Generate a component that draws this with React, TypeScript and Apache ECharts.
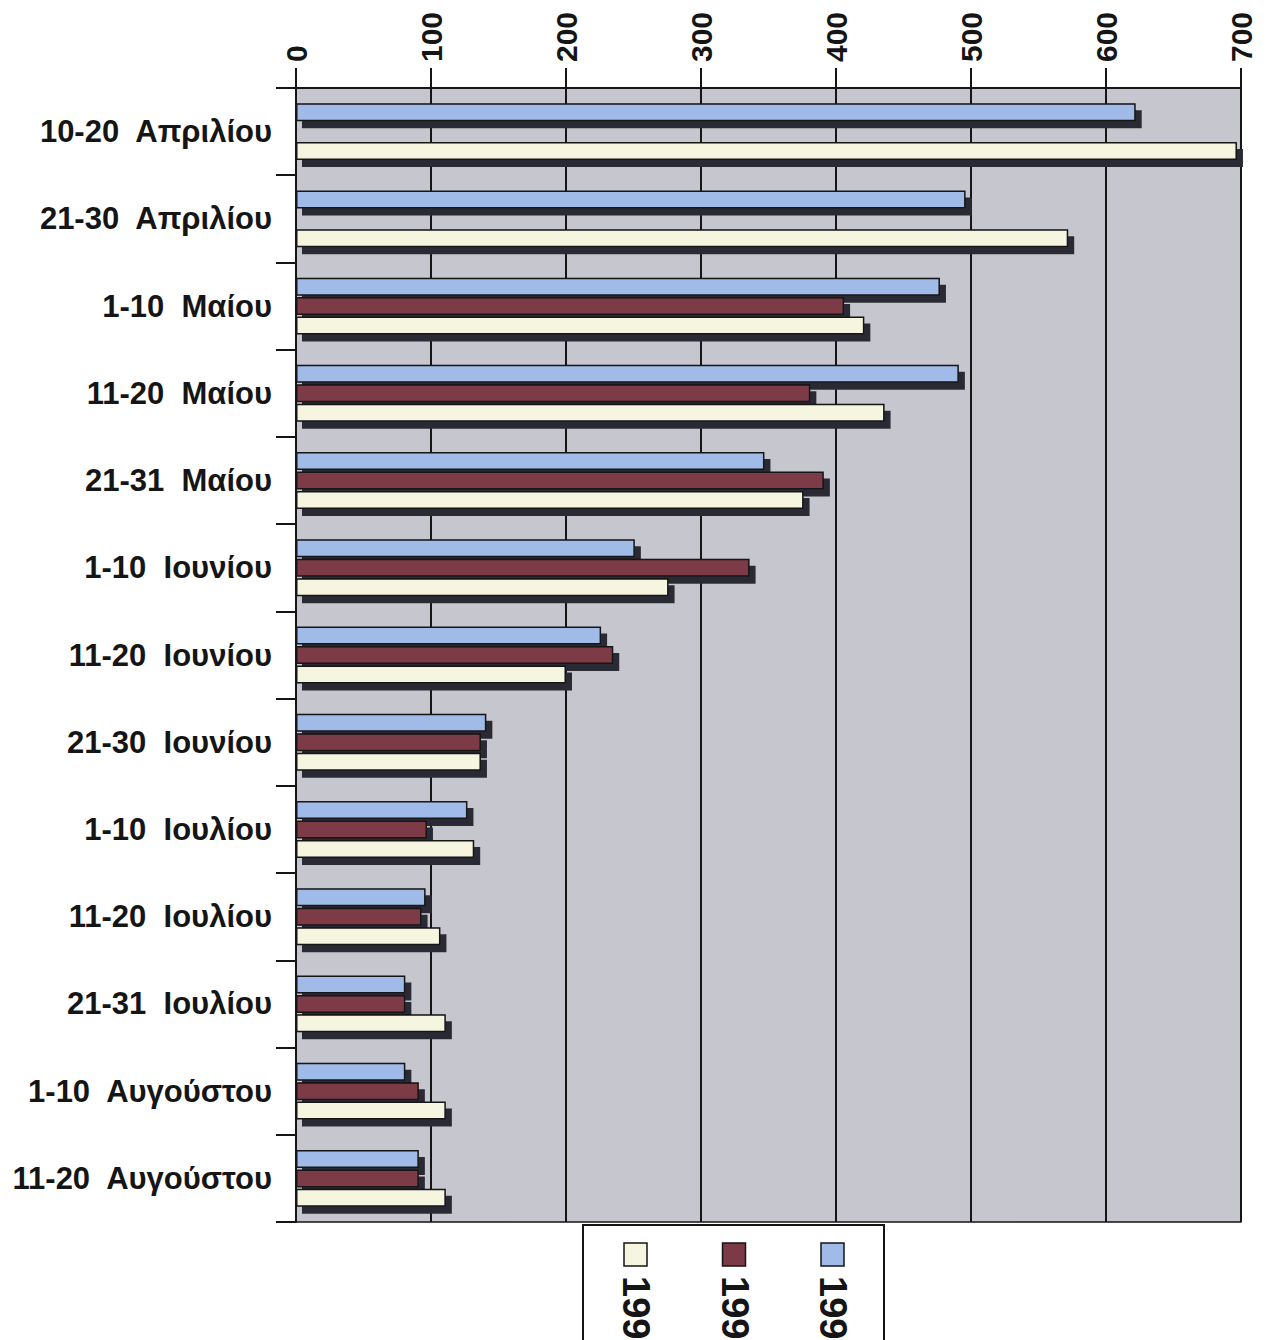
import React, { useEffect, useRef } from "react";
import * as echarts from "echarts";

// Ten-day periods, April to August
const periods = [
  "10-20  Απριλίου",
  "21-30  Απριλίου",
  "1-10  Μαίου",
  "11-20  Μαίου",
  "21-31  Μαίου",
  "1-10  Ιουνίου",
  "11-20  Ιουνίου",
  "21-30  Ιουνίου",
  "1-10  Ιουλίου",
  "11-20  Ιουλίου",
  "21-31  Ιουλίου",
  "1-10  Αυγούστου",
  "11-20  Αυγούστου",
];

const seriesNames = ["1996", "1997", "1998"];

const valuesBlue = [622, 496, 477, 491, 347, 251, 226, 141, 127, 96, 81, 81, 91];
const valuesMaroon = [null, null, 406, 381, 391, 336, 235, 137, 97, 93, 81, 91, 91];
const valuesCream = [697, 572, 421, 436, 376, 276, 200, 137, 132, 107, 111, 111, 111];

const valueTicks = { min: 0, max: 700, interval: 100 };

const COLORS = ["#a0bbe7", "#7c3a47", "#f6f6e0"];
const INK = "#151515";
const FONT = "'Liberation Sans', Arial, sans-serif";

export default function App() {
  const ref = useRef<HTMLDivElement>(null);

  useEffect(() => {
    if (!ref.current) return;
    const chart = echarts.init(ref.current, null, { renderer: "svg" });

    const data = [valuesBlue, valuesMaroon, valuesCream];

    const series = data.map((vals, i) => ({
      name: seriesNames[i],
      type: "bar",
      data: vals,
      barWidth: 18,
      barGap: "8%",
      itemStyle: {
        color: COLORS[i],
        borderColor: INK,
        borderWidth: 1.5,
        shadowColor: "#2c2c34",
        shadowOffsetX: 6,
        shadowOffsetY: 7,
        shadowBlur: 0,
      },
    }));

    // Legend box drawn as graphics so its labels can run vertically;
    // the last series sits at the left, the first at the right.
    const legendX = 583;
    const legendY = 1225;
    const legendItems = seriesNames
      .map((_, k) => {
        const idx = seriesNames.length - 1 - k;
        const cx = 636 + k * 98.5;
        return [
          {
            type: "rect",
            shape: { x: cx - 12, y: 1243, width: 23, height: 23 },
            style: { fill: COLORS[idx], stroke: INK, lineWidth: 1.5 },
          },
          {
            type: "text",
            x: cx,
            y: 1276,
            rotation: -Math.PI / 2,
            style: {
              text: seriesNames[idx],
              font: `bold 38px ${FONT}`,
              fill: INK,
              align: "left",
              verticalAlign: "middle",
            },
          },
        ];
      })
      .flat();

    chart.setOption({
      animation: false,
      backgroundColor: "#ffffff",
      grid: {
        left: 296,
        right: 25,
        top: 88,
        bottom: 118,
        show: true,
        backgroundColor: "#c6c6ce",
        borderWidth: 0,
      },
      xAxis: [
        {
          type: "value",
          position: "top",
          ...valueTicks,
          axisLine: { show: true, lineStyle: { color: INK, width: 2 } },
          axisTick: { show: true, length: 20, inside: false, lineStyle: { color: INK, width: 2 } },
          splitLine: { show: true, lineStyle: { color: INK, width: 2 } },
          axisLabel: {
            rotate: -90,
            margin: 26,
            color: INK,
            fontSize: 30,
            fontWeight: "bold",
            fontFamily: FONT,
          },
        },
        {
          type: "value",
          position: "bottom",
          ...valueTicks,
          axisLine: { show: true, lineStyle: { color: INK, width: 1.5 } },
          axisTick: { show: false },
          splitLine: { show: false },
          axisLabel: { show: false },
        },
      ],
      yAxis: {
        type: "category",
        inverse: true,
        data: periods,
        axisLine: { show: true, lineStyle: { color: INK, width: 2 } },
        axisTick: { show: true, length: 20, lineStyle: { color: INK, width: 2 } },
        axisLabel: {
          margin: 24,
          color: INK,
          fontSize: 31,
          fontWeight: "bold",
          fontFamily: FONT,
        },
      },
      series,
      graphic: [
        {
          type: "rect",
          shape: { x: legendX, y: legendY, width: 301, height: 140 },
          style: { fill: "#ffffff", stroke: INK, lineWidth: 2 },
          z: 10,
        },
        ...legendItems.map((el) => ({ ...el, z: 11 })),
      ],
    });

    return () => chart.dispose();
  }, []);

  return (
    <div
      ref={ref}
      style={{ position: "absolute", left: 0, top: 0, width: 1266, height: 1340 }}
    />
  );
}
